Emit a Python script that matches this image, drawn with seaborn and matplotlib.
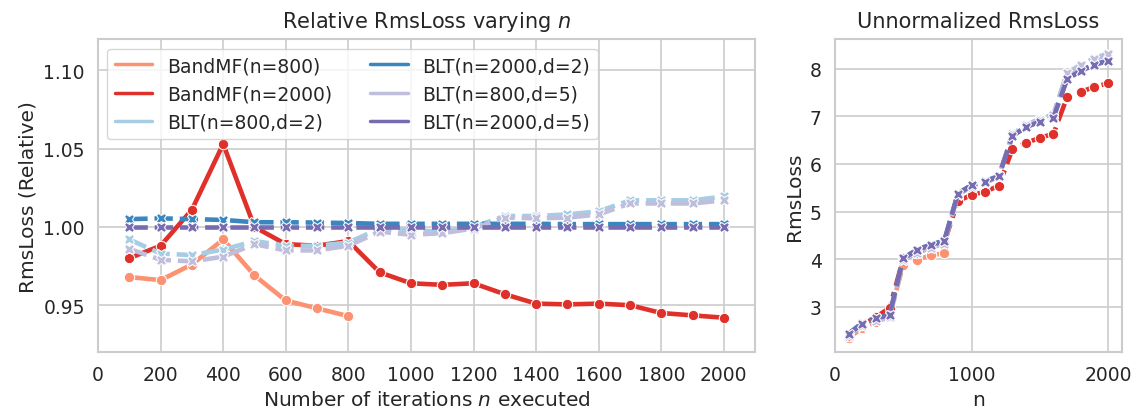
import numpy as np
import pandas as pd
import matplotlib
matplotlib.use("Agg")
import matplotlib.pyplot as plt
from matplotlib.lines import Line2D
import seaborn as sns

# ---------------- data ----------------
n_all = [100, 200, 300, 400, 500, 600, 700, 800, 900, 1000,
         1100, 1200, 1300, 1400, 1500, 1600, 1700, 1800, 1900, 2000]
n_800 = [100, 200, 300, 400, 500, 600, 700, 800]

series_names = ["BandMF(n=800)", "BandMF(n=2000)", "BLT(n=800,d=2)",
                "BLT(n=2000,d=2)", "BLT(n=800,d=5)", "BLT(n=2000,d=5)"]
series_methods = ["BandMF", "BandMF", "BLT", "BLT", "BLT", "BLT"]
series_colors = ["#fc9272", "#e0302a", "#a6cde3", "#3a87c0", "#bfbedc", "#776cb2"]

# Relative RmsLoss
rel_bandmf_800 = [0.968, 0.966, 0.976, 0.992, 0.969, 0.953, 0.948, 0.943]
rel_bandmf_2000 = [0.980, 0.988, 1.011, 1.053, 1.000, 0.989, 0.988, 0.991, 0.971, 0.964,
                   0.963, 0.964, 0.957, 0.951, 0.9505, 0.951, 0.950, 0.945, 0.9435, 0.942]
rel_blt_800_d2 = [0.992, 0.983, 0.982, 0.9855, 0.991, 0.988, 0.988, 0.990, 0.999, 0.998,
                  0.997, 1.000, 1.007, 1.007, 1.008, 1.010, 1.017, 1.017, 1.017, 1.0195]
rel_blt_2000_d2 = [1.005, 1.0055, 1.005, 1.0045, 1.003, 1.003, 1.0028, 1.0025, 1.002, 1.002,
                   1.002, 1.002, 1.002, 1.002, 1.0018, 1.0018, 1.0018, 1.0018, 1.0018, 1.0018]
rel_blt_800_d5 = [0.986, 0.979, 0.978, 0.981, 0.989, 0.985, 0.985, 0.988, 0.997, 0.995,
                  0.996, 0.999, 1.006, 1.0055, 1.006, 1.008, 1.015, 1.015, 1.015, 1.017]
rel_blt_2000_d5 = [1.000, 1.000, 1.000, 1.000, 1.000, 1.000, 1.000, 1.000, 1.000, 1.000,
                   1.000, 1.000, 1.000, 1.000, 1.000, 1.000, 1.000, 1.000, 1.000, 1.000]

# Unnormalized RmsLoss
raw_bandmf_800 = [2.35, 2.56, 2.69, 2.81, 3.89, 3.99, 4.08, 4.13]
raw_bandmf_2000 = [2.38, 2.62, 2.79, 2.98, 4.02, 4.14, 4.25, 4.34, 5.22, 5.35,
                   5.42, 5.54, 6.31, 6.44, 6.55, 6.63, 7.40, 7.51, 7.62, 7.69]
raw_blt_800_d2 = [2.41, 2.61, 2.71, 2.79, 3.98, 4.14, 4.25, 4.34, 5.37, 5.54,
                  5.61, 5.74, 6.64, 6.82, 6.95, 7.04, 7.91, 8.08, 8.22, 8.32]
raw_blt_2000_d2 = [2.44, 2.67, 2.77, 2.84, 4.03, 4.20, 4.31, 4.39, 5.38, 5.56,
                   5.64, 5.75, 6.60, 6.78, 6.90, 6.98, 7.79, 7.96, 8.09, 8.17]
raw_blt_800_d5 = [2.40, 2.59, 2.70, 2.78, 3.98, 4.13, 4.24, 4.33, 5.35, 5.52,
                  5.61, 5.73, 6.63, 6.81, 6.93, 7.02, 7.90, 8.07, 8.20, 8.30]
raw_blt_2000_d5 = [2.43, 2.65, 2.76, 2.83, 4.02, 4.19, 4.30, 4.38, 5.37, 5.55,
                   5.63, 5.74, 6.59, 6.77, 6.89, 6.97, 7.78, 7.95, 8.08, 8.16]

rel_list = [rel_bandmf_800, rel_bandmf_2000, rel_blt_800_d2,
            rel_blt_2000_d2, rel_blt_800_d5, rel_blt_2000_d5]
raw_list = [raw_bandmf_800, raw_bandmf_2000, raw_blt_800_d2,
            raw_blt_2000_d2, raw_blt_800_d5, raw_blt_2000_d5]

rows = []
for name, method, rel, raw in zip(series_names, series_methods, rel_list, raw_list):
    ns = n_800 if len(rel) == len(n_800) else n_all
    for n, r, u in zip(ns, rel, raw):
        rows.append({"n": n, "rel": r, "raw": u, "name": name, "method": method})
df = pd.DataFrame(rows)

# ---------------- style ----------------
sns.set_theme(style="whitegrid")
plt.rcParams["font.family"] = ["DejaVu Sans"]
plt.rcParams.update({
    "font.size": 13.5,
    "axes.labelsize": 14.5,
    "axes.titlesize": 15,
    "xtick.labelsize": 13.5,
    "ytick.labelsize": 13.5,
    "legend.fontsize": 13.5,
    "axes.edgecolor": "#cccccc",
    "grid.color": "#cccccc",
    "axes.linewidth": 1.5,
    "grid.linewidth": 1.2,
})

palette = dict(zip(series_names, series_colors))

fig = plt.figure(figsize=(11.33, 4.14), dpi=100)
ax1 = fig.add_axes([0.0865, 0.147, 0.580, 0.756])
ax2 = fig.add_axes([0.737, 0.147, 0.253, 0.756])

sns.lineplot(data=df, x="n", y="rel", hue="name", hue_order=series_names,
             style="method", style_order=["BandMF", "BLT"],
             markers={"BandMF": "o", "BLT": "X"},
             dashes={"BandMF": "", "BLT": (4, 1.5)},
             palette=palette, lw=3.3, markersize=7.5, legend=False, ax=ax1)

sns.lineplot(data=df, x="n", y="raw", hue="name", hue_order=series_names,
             style="method", style_order=["BandMF", "BLT"],
             markers={"BandMF": "o", "BLT": "X"},
             dashes={"BandMF": (4, 1.5, 1, 1.5), "BLT": (4, 1.5)},
             palette=palette, lw=3.3, markersize=7.5, legend=False, ax=ax2)

ax1.set_xlim(0, 2100)
ax1.set_ylim(0.92, 1.12)
ax1.set_xticks(range(0, 2001, 200))
ax1.set_yticks([0.95, 1.00, 1.05, 1.10])
ax1.set_yticklabels(["0.95", "1.00", "1.05", "1.10"])
ax1.set_xlabel("Number of iterations $n$ executed")
ax1.set_ylabel("RmsLoss (Relative)")
ax1.set_title("Relative RmsLoss varying $n$", pad=9)

handles = [Line2D([0], [0], color=c, lw=2.5) for c in series_colors]
ax1.legend(handles, series_names, ncol=2, loc="upper left",
           frameon=True, borderaxespad=0.5)

ax2.set_xlim(0, 2100)
ax2.set_xticks([0, 1000, 2000])
ax2.set_yticks([3, 4, 5, 6, 7, 8])
ax2.set_xlabel("n")
ax2.set_ylabel("RmsLoss")
ax2.set_title("Unnormalized RmsLoss", pad=9)

fig.savefig("out.png", dpi=100)
